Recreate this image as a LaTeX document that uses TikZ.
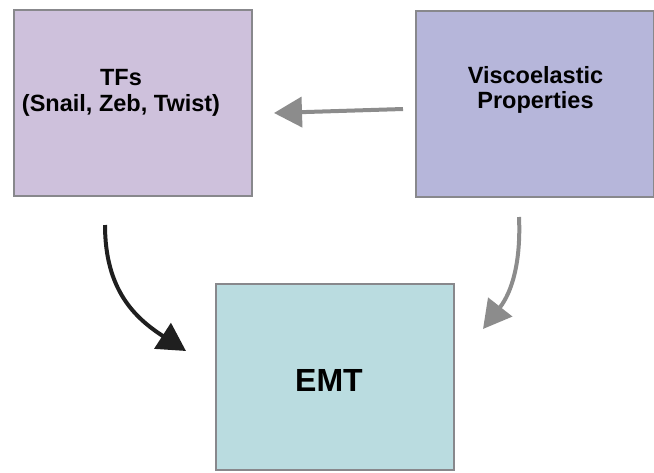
\documentclass[tikz,border=0pt]{standalone}
\usepackage{fontspec}
\setmainfont{Liberation Sans}
\usetikzlibrary{arrows.meta}
\definecolor{tfsfill}{RGB}{206,193,220}
\definecolor{viscofill}{RGB}{182,182,218}
\definecolor{emtfill}{RGB}{186,220,224}
\definecolor{boxline}{RGB}{136,136,140}
\definecolor{arrowgray}{RGB}{140,140,140}
\begin{document}
\begin{tikzpicture}[x=1pt,y=-1pt,
  panel/.style={draw=boxline,line width=2pt,minimum width=238pt,minimum height=186pt,inner sep=0pt},
  label/.style={font=\fontsize{23.5}{25.5}\selectfont\bfseries,align=center,inner sep=0pt},
  fat/.style={-{Triangle[length=28pt,width=30pt]}}]
\useasboundingbox (0,0) rectangle (654,472);
% the three boxes
\node[panel,fill=tfsfill] (tfs) at (133,103) {};
\node[panel,fill=viscofill] (visco) at (535,103.5) {};
\node[panel,fill=emtfill] (emt) at (335,377) {};
% their texts
\node[label] (tfstext) at (121,93) {TFs\\(Snail, Zeb, Twist)};
\node[label] (viscotext) at (535.5,90) {Viscoelastic\\Properties};
\node[label,font=\fontsize{32}{34}\selectfont\bfseries] (emttext) at (329,380) {EMT};
% free ends of the arrows
\coordinate (vtail) at (403,109);
\coordinate (vhead) at (274,113);
\coordinate (ttail) at (105,225);
\coordinate (thead) at (186,351);
\coordinate (etail) at (519,217);
\coordinate (ehead) at (483,329);
% arrows
\draw[fat,arrowgray,line width=4pt] (vtail) -- (vhead);
\draw[fat,black!88,line width=4pt] (ttail) .. controls (105,290) and (135,318) .. (thead);
\draw[fat,arrowgray,line width=4pt] (etail) .. controls (521,262) and (512,292) .. (ehead);
\end{tikzpicture}
\end{document}
